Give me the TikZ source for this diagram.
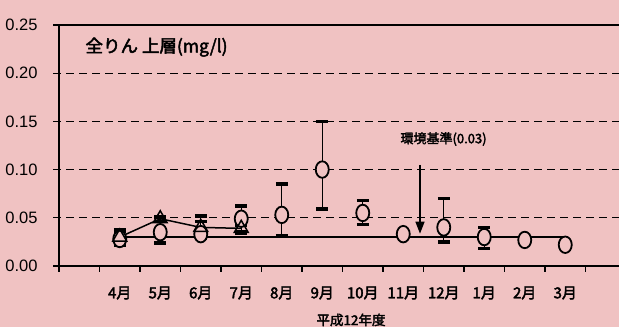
\documentclass[tikz,border=0pt]{standalone}
\usepackage{fontspec}
\setmainfont{Liberation Sans}
\newfontfamily\jpfont[FakeBold=2.5]{Noto Sans CJK JP}
\usetikzlibrary{arrows.meta,shapes.geometric}
\definecolor{bgpink}{HTML}{F0C2C2}
\def\slot{40.5}
\tikzset{
  grid line/.style={black, line width=1.3pt, dash pattern=on 8pt off 5pt},
  axis line/.style={black, line width=1.8pt},
  errbar/.style={black, line width=1.3pt},
  barcap/.style={black, line width=3.5pt},
  upper/.style={ellipse, draw=black, fill=bgpink, line width=1.8pt,
    minimum width=13pt, minimum height=16.5pt, inner sep=0pt},
  tri/.style={regular polygon, regular polygon sides=3, draw=black,
    line width=1.5pt, minimum size=16pt, inner sep=0pt},
  ylab/.style={anchor=east, font=\fontsize{16.5}{18}\selectfont},
  monlab/.style={font=\jpfont\fontsize{15}{16}\selectfont},
  titlelab/.style={anchor=west, font=\jpfont\fontsize{17.5}{19}\selectfont},
  stdlab/.style={anchor=west, font=\jpfont\fontsize{13}{14}\selectfont},
  yearlab/.style={font=\jpfont\fontsize{13.5}{14}\selectfont}
}
\begin{document}
\begin{tikzpicture}[x=1pt, y=964pt]
  \fill[bgpink] (-59,-0.0633) rectangle (560,0.2759);
  \useasboundingbox (-59,-0.0633) rectangle (560,0.2759);

  % grid and axes
  \foreach \v in {0.05,0.10,0.15,0.20} {
    \draw[grid line] (-6,\v) -- (560,\v);
  }
  \draw[axis line] (-6,0) -- (560,0);
  \draw[axis line] (-6,0.25) -- (560,0.25);
  \draw[axis line, line width=1.5pt] (0,0) -- (0,0.25);
  \foreach \k in {0,...,13} {
    \draw[black, line width=1.2pt] (\k*\slot,0) -- ++(0,-6pt);
  }
  \foreach \v [count=\i] in {0.00,0.05,0.10,0.15,0.20,0.25} {
    \node[ylab] (ytick\i) at (-18,\v) {\v};
  }

  % environmental standard
  \coordinate (stdL) at (\slot*1.5,0.03);
  \coordinate (stdR) at (\slot*12.5,0.03);
  \draw[black, line width=1.5pt] (stdL) -- (stdR);

  % second series (triangles)
  \foreach \m/\val/\lo/\hi in {1/0.030/0.024/0.036, 2/0.049/0.046/0.051,
      3/0.040/0.029/0.046, 4/0.039/0.035/0.042} {
    \pgfmathsetmacro\xx{\slot*(\m+0.5)}
    \coordinate (tr\m) at (\xx,\val);
    \draw[errbar] (\xx,\lo) -- (\xx,\hi);
    \draw[barcap] (\xx-6,\lo) -- (\xx+6,\lo);
    \draw[barcap] (\xx-6,\hi) -- (\xx+6,\hi);
  }
  \draw[black, line width=1.5pt] (tr1) -- (tr2) -- (tr3) -- (tr4);

  % upper layer (circles)
  \foreach \m/\val/\lo/\hi in {1/0.028/0.022/0.038, 2/0.035/0.024/0.046,
      3/0.033/0.029/0.052, 4/0.049/0.034/0.062, 5/0.053/0.031/0.085,
      6/0.100/0.059/0.150, 7/0.055/0.043/0.068, 8/0.033/0.033/0.033,
      9/0.040/0.025/0.070, 10/0.030/0.018/0.040, 11/0.027/0.026/0.029,
      12/0.022/0.022/0.022} {
    \pgfmathsetmacro\xx{\slot*(\m+0.5)}
    \draw[errbar] (\xx,\lo) -- (\xx,\hi);
    \draw[barcap] (\xx-6,\lo) -- (\xx+6,\lo);
    \draw[barcap] (\xx-6,\hi) -- (\xx+6,\hi);
    \node[upper] (up\m) at (\xx,\val) {};
  }
  \foreach \m in {1,...,4} {
    \node[tri] (trm\m) at (tr\m) {};
  }

  % labels
  \node[titlelab] (title) at (23,0.227) {全りん 上層(mg/l)};
  \node[stdlab] (stdtext) at (338,0.1317) {環境基準(0.03)};
  \coordinate (arrtop) at (361,0.1048);
  \coordinate (arrtip) at (361,0.0335);
  \draw[-{Triangle[length=12pt,width=9pt]}, black, line width=1.3pt] (arrtop) -- (arrtip);

  \foreach \mon [count=\m] in {4月,5月,6月,7月,8月,9月,10月,11月,12月,1月,2月,3月} {
    \node[monlab] (mon\m) at ({\slot*(\m+0.5)},-0.028) {\mon};
  }
  \node[yearlab] (year) at (292,-0.056) {平成12年度};
\end{tikzpicture}
\end{document}
